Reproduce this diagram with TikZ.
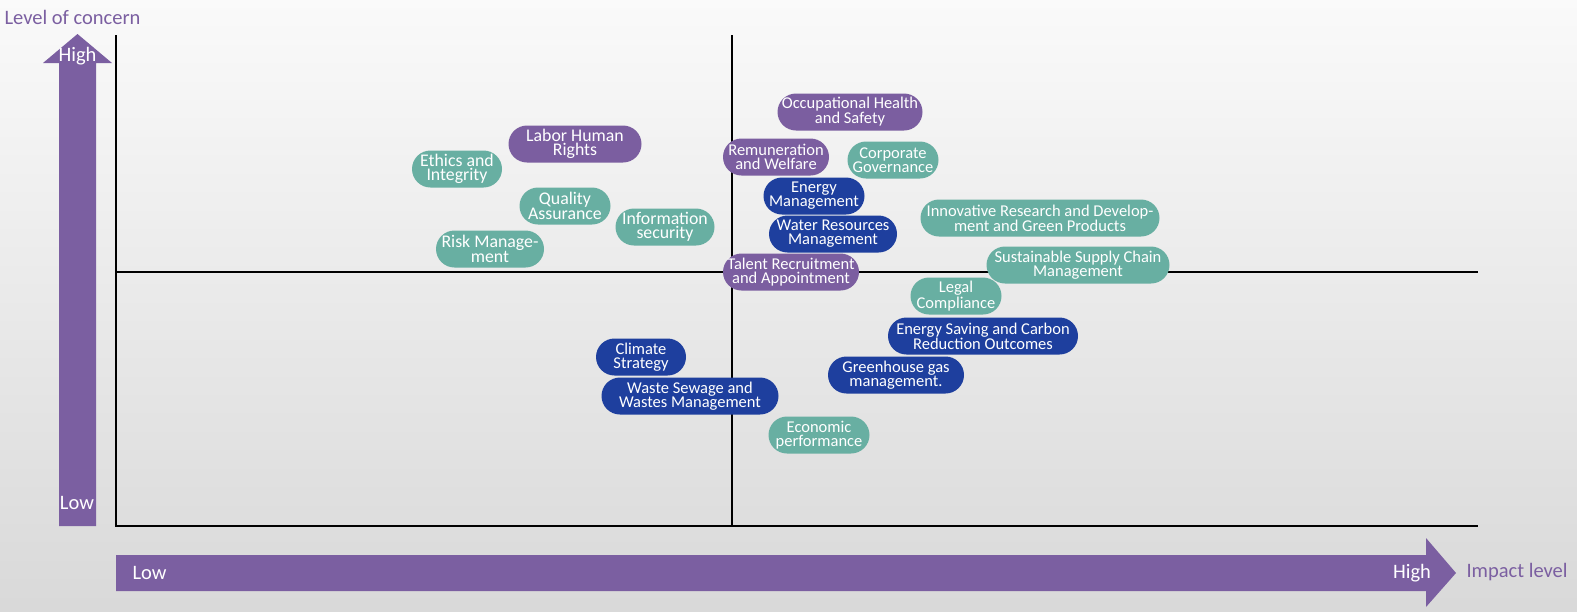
\documentclass[tikz,border=0pt]{standalone}
\usepackage{fontspec}
\setmainfont{Carlito}
\usetikzlibrary{positioning}
\definecolor{axispurple}{HTML}{7B5FA1}
\definecolor{pillpurple}{HTML}{7B5EA0}
\definecolor{pillteal}{HTML}{68AFA2}
\definecolor{pillnavy}{HTML}{1E3F9E}

\begin{document}
\begin{tikzpicture}[x=1pt, y=-1pt,
    pill/.style={rectangle, rounded corners=18.5pt, inner sep=0pt, minimum height=37pt,
        text=white, align=center, font=\fontsize{16.5}{14}\selectfont},
    largetext/.style={font=\fontsize{17.8}{14.5}\selectfont},
    social/.style={pill, fill=pillpurple},
    governance/.style={pill, fill=pillteal},
    environment/.style={pill, fill=pillnavy},
    axislabel/.style={font=\fontsize{20.5}{20}\selectfont},
    axisline/.style={line width=2pt, black}]
        % background
        \useasboundingbox (0,0) rectangle (1577,611);
        \shade[top color=white!98!black, bottom color=white!85!black] (0,0) rectangle (1577,611);

        % big arrows
        \fill[axispurple] (59,526) -- (59,63) -- (43,63) -- (77.5,34) -- (112,63) -- (96,63) -- (96,526) -- cycle;
        \fill[axispurple] (116,555) -- (1426,555) -- (1426,538) -- (1456,573) -- (1426,607) -- (1426,591) -- (116,591) -- cycle;
        \node[axislabel, text=axispurple, anchor=west] (concern) at (1,17) {Level of concern};
        \node[axislabel, text=white] (vhigh) at (77.5,56) {High};
        \node[axislabel, text=white] (vlow) at (77,503) {Low};
        \node[axislabel, text=white, anchor=west] (hlow) at (129,573) {Low};
        \node[axislabel, text=white] (hhigh) at (1412,573) {High};
        \node[axislabel, text=axispurple, anchor=west] (impact) at (1463,572) {Impact level};

        % quadrant lines
        \coordinate (topleft) at (116,35);
        \coordinate (origin) at (116,526);
        \coordinate (botright) at (1478,526);
        \coordinate (midleft) at (116,272);
        \coordinate (midright) at (1478,272);
        \coordinate (midtop) at (732,35);
        \coordinate (midbot) at (732,526);
        \draw[axisline] (topleft) -- (origin) -- (botright);
        \draw[axisline, line width=2.5pt] (midleft) -- (midright);
        \draw[axisline] (midtop) -- (midbot);

        % topics
        \node[social, minimum width=145pt] (occhealth) at (850,112) {Occupational Health\\and Safety};
        \node[social, minimum width=106pt] (remuneration) at (776,157) {Remuneration\\and Welfare};
        \node[governance, minimum width=91pt] (corpgov) at (893,160) {Corporate\\Governance};
        \node[environment, minimum width=101pt] (energy) at (814,196) {Energy\\Management};
        \node[environment, minimum width=128pt] (water) at (833,234) {Water Resources\\Management};
        \node[social, minimum width=136pt] (talent) at (791,272) {Talent Recruitment\\and Appointment};
        \node[governance, minimum width=239pt] (innovation) at (1040,218) {Innovative Research and Develop-\\ment and Green Products};
        \node[governance, minimum width=183pt] (supply) at (1078,265) {Sustainable Supply Chain\\Management};
        \node[governance, minimum width=91pt] (legal) at (956,296) {Legal\\Compliance};
        \node[environment, minimum width=190pt] (carbon) at (983,336) {Energy Saving and Carbon\\Reduction Outcomes};
        \node[environment, minimum width=136pt] (ghg) at (896,375) {Greenhouse gas\\management.};
        \node[environment, minimum width=90pt] (climate) at (641,357) {Climate\\Strategy};
        \node[environment, minimum width=177pt] (waste) at (690,396) {Waste Sewage and\\Wastes Management};
        \node[governance, minimum width=101pt] (economic) at (819,435) {Economic\\performance};
        \node[social, largetext, minimum width=133pt] (labor) at (575,144) {Labor Human\\Rights};
        \node[governance, largetext, minimum width=90pt] (ethics) at (457,169) {Ethics and\\Integrity};
        \node[governance, largetext, minimum width=91pt] (quality) at (565,206) {Quality\\Assurance};
        \node[governance, largetext, minimum width=99pt] (infosec) at (665,227) {Information\\security};
        \node[governance, largetext, minimum width=108pt] (risk) at (490,249) {Risk Manage-\\ment};
\end{tikzpicture}
\end{document}
